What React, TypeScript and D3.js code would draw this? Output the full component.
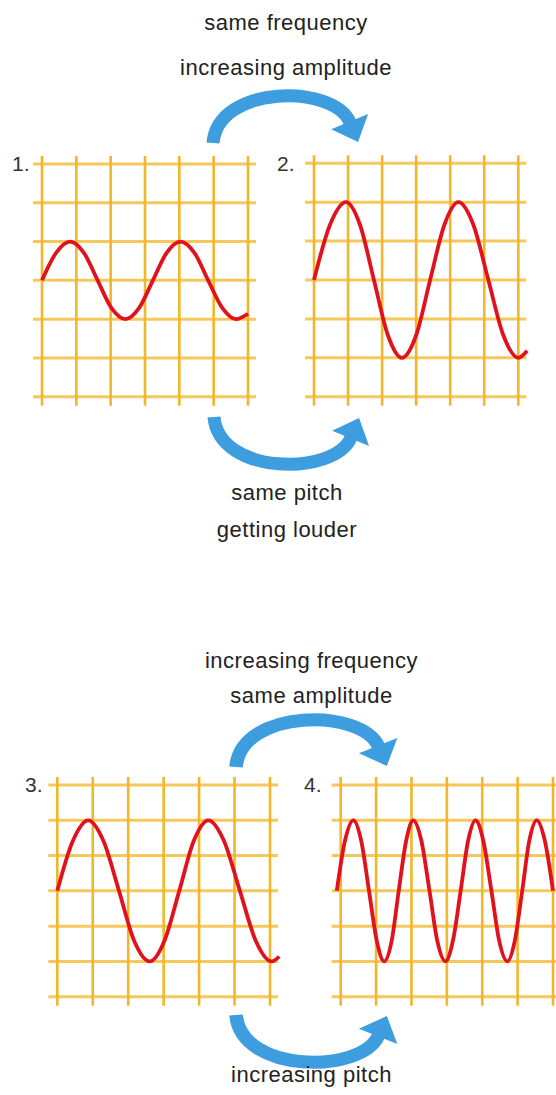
import React from "react";
import * as d3 from "d3";

// ---- data (x in grid columns, y in grid rows from centre) ----
const gridCols = [0, 1, 2, 3, 4, 5, 6];
const gridRows = [-3, -2, -1, 0, 1, 2, 3];

const wave1X = [0, 0.41, 0.82, 1.22, 1.62, 2.02, 2.43, 2.83, 3.23, 3.63, 4.03, 4.44, 4.84, 5.25, 5.65, 6.0];
const wave1Y = [0, 0.71, 1, 0.71, 0, -0.71, -1, -0.71, 0, 0.71, 1, 0.71, 0, -0.71, -1, -0.86];

const wave2X = [0, 0.47, 0.94, 1.35, 1.76, 2.17, 2.58, 3.0, 3.41, 3.83, 4.24, 4.68, 5.12, 5.56, 6.0, 6.26];
const wave2Y = [0, 1.42, 2, 1.42, 0, -1.42, -2, -1.42, 0, 1.42, 2, 1.42, 0, -1.42, -2, -1.82];

const wave3X = [0, 0.44, 0.87, 1.3, 1.74, 2.17, 2.61, 3.02, 3.44, 3.85, 4.26, 4.7, 5.15, 5.6, 6.05, 6.26];
const wave3Y = [0, 1.42, 2, 1.42, 0, -1.42, -2, -1.42, 0, 1.42, 2, 1.42, 0, -1.42, -2, -1.86];

const wave4X = [
  -0.11, 0.12, 0.36, 0.58, 0.8, 1.02, 1.23, 1.44, 1.64, 1.85, 2.05, 2.28, 2.51, 2.73, 2.96,
  3.17, 3.39, 3.6, 3.81, 4.03, 4.26, 4.48, 4.71, 4.92, 5.13, 5.33, 5.54, 5.77, 6.0,
];
const wave4Y = [
  0, 1.42, 2, 1.42, 0, -1.42, -2, -1.42, 0, 1.42, 2, 1.42, 0, -1.42, -2,
  -1.42, 0, 1.42, 2, 1.42, 0, -1.42, -2, -1.42, 0, 1.42, 2, 1.42, 0,
];

const panelLabels = ["1.", "2.", "3.", "4."];
const captionsTop = ["same frequency", "increasing amplitude"];
const captionsMid = ["same pitch", "getting louder"];
const captionsLow = ["increasing frequency", "same amplitude"];
const captionsBottom = ["increasing pitch"];

// ---- layout ----
const panels = [
  { x0: 42, x1: 248, yTop: 164, yBot: 396.7, wx: wave1X, wy: wave1Y, label: panelLabels[0], lx: 12, ly: 171 },
  { x0: 314, x1: 518.3, yTop: 163.3, yBot: 396.7, wx: wave2X, wy: wave2Y, label: panelLabels[1], lx: 277, ly: 171 },
  { x0: 57.3, x1: 270, yTop: 785, yBot: 996.7, wx: wave3X, wy: wave3Y, label: panelLabels[2], lx: 25, ly: 792 },
  { x0: 340.7, x1: 553, yTop: 785, yBot: 996.7, wx: wave4X, wy: wave4Y, label: panelLabels[3], lx: 304, ly: 792 },
];

const captions = [
  { lines: captionsTop, cx: 286, ys: [30, 75] },
  { lines: captionsMid, cx: 287, ys: [500, 537] },
  { lines: captionsLow, cx: 311.5, ys: [668, 703] },
  { lines: captionsBottom, cx: 311.5, ys: [1082] },
];

const arrows = [
  { tx: 213, ty: 143, sx: 1, sy: 1 },
  { tx: 214, ty: 417, sx: 1, sy: -1 },
  { tx: 236, ty: 767, sx: 1.04, sy: 1 },
  { tx: 236, ty: 1015, sx: 1.04, sy: -1 },
];

const GRID_EXT = 8;
const BLUE = "#3d9ddf";
const RED = "#e1121c";
const FONT = "'Liberation Sans', Arial, Helvetica, sans-serif";

function Panel({ p }: { p: (typeof panels)[number] }) {
  const x = d3.scaleLinear().domain([0, 6]).range([p.x0, p.x1]);
  const y = d3.scaleLinear().domain([-3, 3]).range([p.yBot, p.yTop]);
  const line = d3
    .line<number>()
    .x((_, i) => x(p.wx[i]))
    .y((d) => y(d))
    .curve(d3.curveMonotoneX);
  return (
    <g>
      {gridRows.map((r) => (
        <line
          key={"h" + r}
          x1={p.x0 - GRID_EXT - 1}
          x2={p.x1 + GRID_EXT}
          y1={y(r)}
          y2={y(r)}
          stroke="#f5c85c"
          strokeWidth={3}
        />
      ))}
      {gridCols.map((c) => (
        <line
          key={"v" + c}
          x1={x(c)}
          x2={x(c)}
          y1={p.yTop - GRID_EXT}
          y2={p.yBot + GRID_EXT + 1}
          stroke="#f2b628"
          strokeWidth={2.6}
        />
      ))}
      <path d={line(p.wy) || ""} fill="none" stroke={RED} strokeWidth={3.8} strokeLinecap="butt" />
      <text x={p.lx} y={p.ly} fontFamily={FONT} fontSize={21} fill="#333">
        {p.label}
      </text>
    </g>
  );
}

function Arrow({ a }: { a: (typeof arrows)[number] }) {
  const p0: [number, number] = [0, 0];
  const p1: [number, number] = [5, -59];
  const p2: [number, number] = [121, -59];
  const p3: [number, number] = [137, -20.5];
  const path = d3.path();
  path.moveTo(...p0);
  path.bezierCurveTo(p1[0], p1[1], p2[0], p2[1], p3[0], p3[1]);
  const dx = p3[0] - p2[0];
  const dy = p3[1] - p2[1];
  const len = Math.hypot(dx, dy);
  const ux = dx / len;
  const uy = dy / len;
  const hw = 20;
  const hl = 21;
  const b1 = [p3[0] - uy * hw - ux * 1, p3[1] + ux * hw - uy * 1];
  const b2 = [p3[0] + uy * hw - ux * 1, p3[1] - ux * hw - uy * 1];
  const tip = [p3[0] + ux * hl, p3[1] + uy * hl];
  return (
    <g transform={`translate(${a.tx},${a.ty}) scale(${a.sx},${a.sy})`}>
      <path d={path.toString()} fill="none" stroke={BLUE} strokeWidth={13} />
      <polygon points={`${b1[0]},${b1[1]} ${b2[0]},${b2[1]} ${tip[0]},${tip[1]}`} fill={BLUE} />
    </g>
  );
}

export default function App() {
  return (
    <svg
      width={556}
      height={1095}
      style={{ position: "absolute", left: 0, top: 0, display: "block", background: "#fff" }}
    >
      <rect width={556} height={1095} fill="#fff" />
      {panels.map((p, i) => (
        <Panel key={i} p={p} />
      ))}
      {arrows.map((a, i) => (
        <Arrow key={i} a={a} />
      ))}
      {captions.map((c, i) =>
        c.lines.map((t, j) => (
          <text
            key={i + "-" + j}
            x={c.cx}
            y={c.ys[j]}
            textAnchor="middle"
            fontFamily={FONT}
            fontSize={22}
            letterSpacing={0.5}
            fill="#222"
          >
            {t}
          </text>
        ))
      )}
    </svg>
  );
}
